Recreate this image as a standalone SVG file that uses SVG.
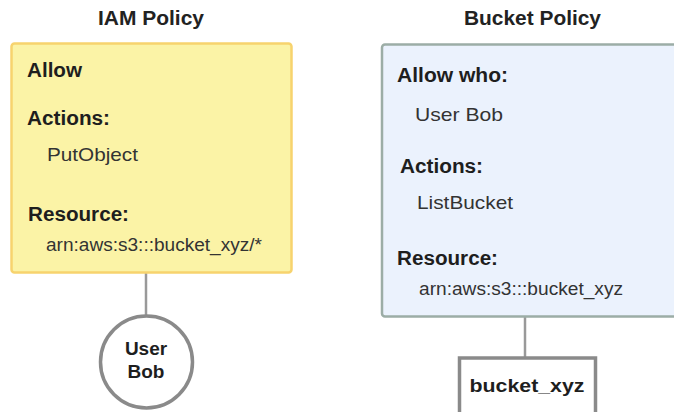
<svg xmlns="http://www.w3.org/2000/svg" width="674" height="412" viewBox="0 0 674 412">
  <style>
    .title { font-family: "Liberation Sans", Arial, sans-serif; font-size: 20.5px; font-weight: bold; fill: #222; text-anchor: middle; }
    .label { font-family: "Liberation Sans", Arial, sans-serif; font-size: 19.5px; font-weight: bold; fill: #1e1e1e; }
    .value { font-family: "Liberation Sans", Arial, sans-serif; font-size: 19px; fill: #333; }
    .arn { font-family: "Liberation Sans", Arial, sans-serif; font-size: 17.5px; fill: #333; }
    .node-text { font-family: "Liberation Sans", Arial, sans-serif; font-size: 19px; font-weight: bold; fill: #1e1e1e; text-anchor: middle; }
    .iam-box { fill: #fbf3a6; stroke: #f7d36e; stroke-width: 2.5; }
    .bucket-box { fill: #ebf2fd; stroke: #9cada6; stroke-width: 2.5; }
    .connector { stroke: #999; stroke-width: 2.5; fill: none; }
    .entity { fill: #fff; stroke: #8a8a8a; stroke-width: 3.5; }
  </style>

  <!-- connectors between policies and the entities they attach to -->
  <g id="connectors">
    <line class="connector" x1="146" y1="273" x2="146" y2="316"/>
    <line class="connector" x1="525" y1="317" x2="525" y2="358"/>
  </g>

  <!-- identity-based policy -->
  <g id="iam-policy">
    <text class="title" x="151" y="25" textLength="106" lengthAdjust="spacingAndGlyphs">IAM Policy</text>
    <rect class="iam-box" x="11.5" y="43.5" width="280" height="229" rx="3"/>
    <text class="label" x="27" y="77" textLength="55" lengthAdjust="spacingAndGlyphs">Allow</text>
    <text class="label" x="27" y="125" textLength="83" lengthAdjust="spacingAndGlyphs">Actions:</text>
    <text class="value" x="47" y="161" textLength="91" lengthAdjust="spacingAndGlyphs">PutObject</text>
    <text class="label" x="28" y="221" textLength="101" lengthAdjust="spacingAndGlyphs">Resource:</text>
    <text class="arn" x="46" y="251" textLength="216" lengthAdjust="spacingAndGlyphs">arn:aws:s3:::bucket_xyz/*</text>
  </g>

  <!-- resource-based policy -->
  <g id="bucket-policy">
    <text class="title" x="532.5" y="25" textLength="137" lengthAdjust="spacingAndGlyphs">Bucket Policy</text>
    <rect class="bucket-box" x="382" y="44.5" width="300" height="272" rx="3"/>
    <text class="label" x="397" y="82" textLength="111" lengthAdjust="spacingAndGlyphs">Allow who:</text>
    <text class="value" x="415" y="121" textLength="88" lengthAdjust="spacingAndGlyphs">User Bob</text>
    <text class="label" x="400" y="173" textLength="83" lengthAdjust="spacingAndGlyphs">Actions:</text>
    <text class="value" x="417" y="209" textLength="96" lengthAdjust="spacingAndGlyphs">ListBucket</text>
    <text class="label" x="397" y="265" textLength="101" lengthAdjust="spacingAndGlyphs">Resource:</text>
    <text class="arn" x="419" y="295" textLength="204" lengthAdjust="spacingAndGlyphs">arn:aws:s3:::bucket_xyz</text>
  </g>

  <!-- user entity -->
  <g id="user-bob">
    <circle class="entity" cx="146.5" cy="362" r="46"/>
    <text class="node-text" x="146" y="355" font-size="18">User</text>
    <text class="node-text" x="146" y="378" font-size="18">Bob</text>
  </g>

  <!-- bucket entity -->
  <g id="bucket-xyz">
    <rect class="entity" x="459.5" y="358" width="136" height="56"/>
    <text class="node-text" x="527" y="392" textLength="115" lengthAdjust="spacingAndGlyphs">bucket_xyz</text>
  </g>
</svg>
